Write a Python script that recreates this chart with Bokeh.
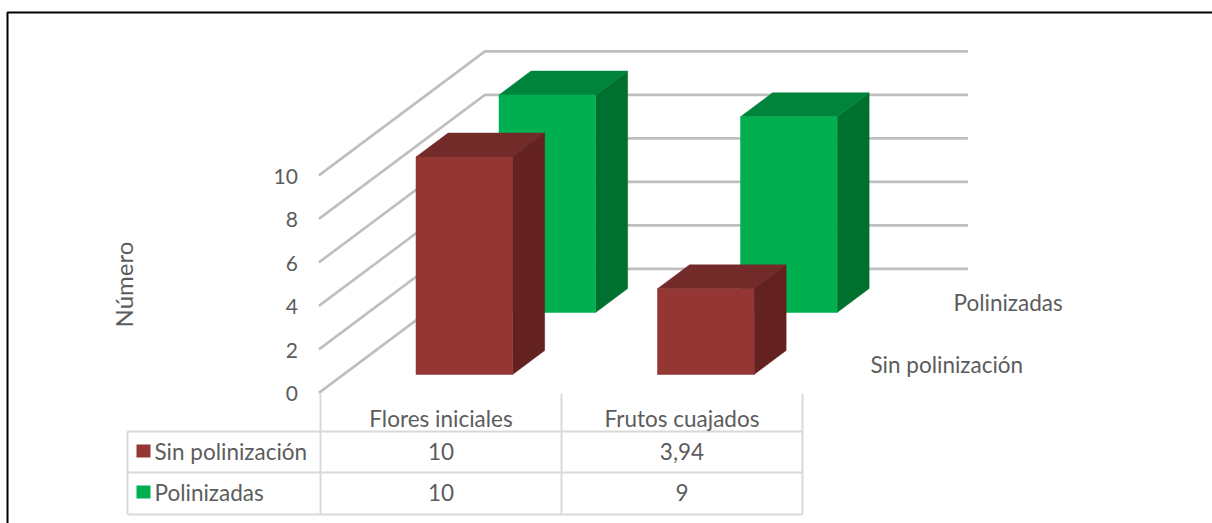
from bokeh.plotting import figure
from bokeh.models import Range1d
from bokeh.core.properties import value
from bokeh.embed import file_html
from bokeh.resources import INLINE
import math

categories = ["Flores iniciales", "Frutos cuajados"]
series_names = ["Sin polinización", "Polinizadas"]
sin_polinizacion = [10, 3.94]
polinizadas = [10, 9]
table_sin = ["10", "3,94"]
table_pol = ["10", "9"]
y_ticks = [0, 2, 4, 6, 8, 10]
y_title = "Número"

W, H = 1212, 523
X0, Y0 = 318.4, 392.4      # pixel of category 0 / value 0 at the front of the floor
CAT_PX, VAL_PX = 241.5, 21.75
DEPTH_DX, DEPTH_DY = 83.0, 62.0   # pixels per depth unit
BAR_W, BAR_D = 0.4, 0.386
FONT = "Lato"
FS = "22.5px"
TXT = "#5c5c5c"

p = figure(width=W, height=H, output_backend="svg", toolbar_location=None,
           x_range=Range1d(-X0 / CAT_PX, (W - X0) / CAT_PX),
           y_range=Range1d((Y0 - H) / VAL_PX, Y0 / VAL_PX),
           min_border=0, outline_line_color=None, background_fill_color="white",
           border_fill_color="white", margin=(0, 0, 0, 0))
p.axis.visible = False
p.grid.visible = False


def px(x, z=0.0):
    return x + z * DEPTH_DX / CAT_PX


def py(y, z=0.0):
    return y + z * DEPTH_DY / VAL_PX


def sx(pixel):
    return (pixel - X0) / CAT_PX


def sy(pixel):
    return (Y0 - pixel) / VAL_PX


def label(text, xp, yp, align="left", angle=0.0, size=FS):
    p.text([sx(xp)], [sy(yp)], text=value(text), text_font=value(FONT), text_font_size=size,
           text_color=TXT, text_align=align, text_baseline="middle", angle=angle)


# page frame
p.line([sx(7), sx(7), sx(W)], [sy(H), sy(12), sy(12)], line_color="#000000", line_width=2)

# walls
GRID = "#bfbfbf"
for t in y_ticks:
    p.line([px(0, 0), px(0, 2), px(2, 2)], [py(t, 0), py(t, 2), py(t, 2)],
           line_color=GRID, line_width=2.6)

# bars, back series first


def bar(i, v, z0, front, top, side):
    x0 = i + 0.5 - BAR_W / 2
    x1 = i + 0.5 + BAR_W / 2
    z1 = z0 + BAR_D
    p.patch([px(x1, z0), px(x1, z1), px(x1, z1), px(x1, z0)],
            [py(0, z0), py(0, z1), py(v, z1), py(v, z0)], fill_color=side, line_color=side, line_width=0.5)
    p.patch([px(x0, z0), px(x1, z0), px(x1, z1), px(x0, z1)],
            [py(v, z0), py(v, z0), py(v, z1), py(v, z1)], fill_color=top, line_color=top, line_width=0.5)
    p.patch([px(x0, z0), px(x1, z0), px(x1, z0), px(x0, z0)],
            [py(0, z0), py(0, z0), py(v, z0), py(v, z0)], fill_color=front, line_color=front, line_width=0.5)


Z_FRONT, Z_BACK = 0.297, 1.297
for i, v in enumerate(polinizadas):
    bar(i, v, Z_BACK, "#00B050", "#00843C", "#00702F")
for i, v in enumerate(sin_polinizacion):
    bar(i, v, Z_FRONT, "#943634", "#722B28", "#632120")

# y tick labels and title
for t in y_ticks:
    p.text([px(0, 0) - 21 / CAT_PX], [py(t, 0) - 0.05], text=value(str(t)), text_font=value(FONT),
           text_font_size="21px", text_color=TXT, text_align="right", text_baseline="middle")
label(y_title, 123, 284, "center", math.pi / 2, "24px")

# depth axis labels
label(series_names[1], 953, 302)
label(series_names[0], 870, 364)

# data table
TG = "#d9d9d9"
LX, C0, C1, C2 = 127, 320, 561, 802
R0, R1, R2, R3 = 393, 431, 472, 514
for xx, top_y in [(LX, R1), (C0, R0), (C1, R0), (C2, R0)]:
    p.line([sx(xx), sx(xx)], [sy(top_y), sy(R3)], line_color=TG, line_width=2)
for yy in [R1, R2, R3]:
    p.line([sx(LX), sx(C2)], [sy(yy), sy(yy)], line_color=TG, line_width=2)

label(categories[0], (C0 + C1) / 2, 418, "center")
label(categories[1], (C1 + C2) / 2, 418, "center")
for row_y, name, vals, col in [(451, series_names[0], table_sin, "#943634"),
                               (492, series_names[1], table_pol, "#00B050")]:
    p.quad(left=[sx(136)], right=[sx(150)], top=[sy(row_y - 7)], bottom=[sy(row_y + 6)],
           fill_color=col, line_color=None)
    label(name, 154, row_y)
    label(vals[0], (C0 + C1) / 2, row_y, "center")
    label(vals[1], (C1 + C2) / 2, row_y, "center")

open("out.html", "w").write(file_html(p, INLINE))
